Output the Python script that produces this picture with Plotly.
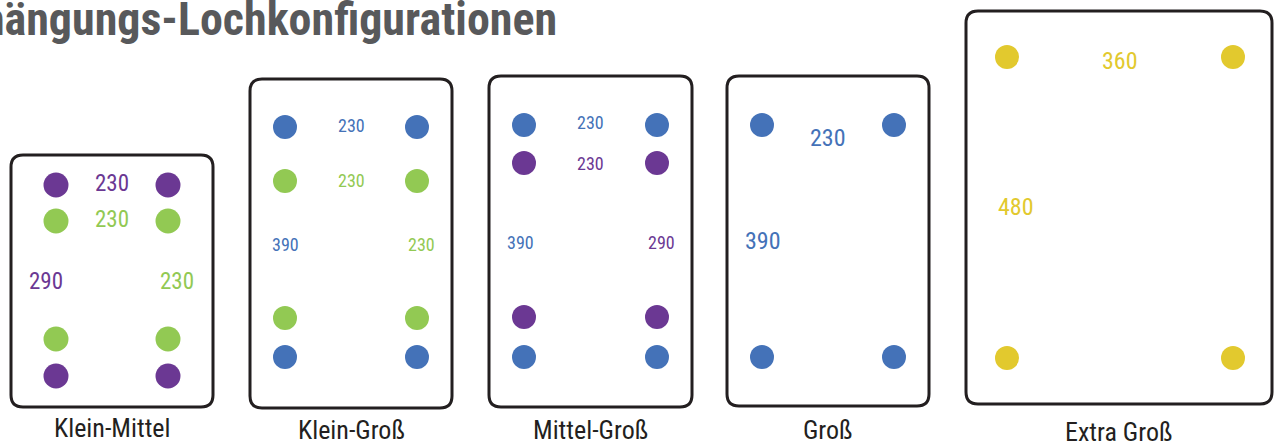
import plotly.graph_objects as go

# ---------------- data ----------------
title_text = "Aufhängungs-Lochkonfigurationen"
categories = ["Klein-Mittel", "Klein-Groß", "Mittel-Groß", "Groß", "Extra Groß"]

# hole patterns per configuration: (colour key, horizontal spacing, vertical spacing)
pattern_colors = [["purple", "green"], ["blue", "green"], ["blue", "purple"], ["blue"], ["yellow"]]
pattern_width = [[230, 230], [230, 230], [230, 230], [230], [360]]
pattern_height = [[290, 230], [390, 230], [390, 290], [390], [480]]

# ---------------- layout (pixel geometry of the drawing) ----------------
W, H = 1274, 447
palette = {"purple": "#6b3893", "green": "#92c953", "blue": "#4472b8", "yellow": "#e2c92e"}

boxes = [(11, 213, 155, 407), (250, 452, 79, 408), (489, 692, 76, 407),
         (727, 929, 76, 406), (966, 1272, 11, 404)]
cols = [(56, 168), (285, 417), (524, 657), (762, 894), (1007, 1233)]
rows = [[(185, 376), (221, 339)], [(127, 357), (181, 318)], [(125, 357), (163, 317)],
        [(125, 357)], [(57, 358)]]
wlab = [[(112, 183), (112, 219)], [(351, 125), (351, 180)], [(590, 122), (590, 163)],
        [(828, 138)], [(1120, 61)]]
hlab = [[(46, 281), (177, 281)], [(285, 244), (421, 244)], [(520, 242), (661, 242)],
        [(763, 241)], [(1016, 207)]]
lab_size = [23, 18, 18, 24, 24]
dot_size = [25, 24, 24, 24, 24]
cat_y = [428, 430, 430, 430, 432]

num_font = "Roboto Condensed, Liberation Sans Narrow, DejaVu Sans Condensed, Liberation Sans, sans-serif"

fig = go.Figure()
shapes = []
annotations = []
r = 12
for i, cat in enumerate(categories):
    x0, x1, y0, y1 = boxes[i]
    path = (f"M {x0+r},{y0} L {x1-r},{y0} Q {x1},{y0} {x1},{y0+r} "
            f"L {x1},{y1-r} Q {x1},{y1} {x1-r},{y1} L {x0+r},{y1} "
            f"Q {x0},{y1} {x0},{y1-r} L {x0},{y0+r} Q {x0},{y0} {x0+r},{y0} Z")
    shapes.append(dict(type="path", path=path, xref="x", yref="y",
                       line=dict(color="#231f20", width=3), fillcolor="white", layer="below"))
    for j, ck in enumerate(pattern_colors[i]):
        c = palette[ck]
        top, bot = rows[i][j]
        xl, xr = cols[i]
        fig.add_trace(go.Scatter(
            x=[xl, xr, xl, xr], y=[top, top, bot, bot], mode="markers",
            marker=dict(size=dot_size[i], color=c, line=dict(width=0)),
            hoverinfo="skip", showlegend=False))
        wx, wy = wlab[i][j]
        annotations.append(dict(x=wx, y=wy, xref="x", yref="y", text=str(pattern_width[i][j]),
                                showarrow=False, xanchor="center", yanchor="middle",
                                font=dict(family=num_font, size=lab_size[i], color=c)))
        hx, hy = hlab[i][j]
        annotations.append(dict(x=hx, y=hy, xref="x", yref="y", text=str(pattern_height[i][j]),
                                showarrow=False, xanchor="center", yanchor="middle",
                                font=dict(family=num_font, size=lab_size[i], color=c)))
    annotations.append(dict(x=(x0 + x1) / 2, y=cat_y[i], xref="x", yref="y", text=cat,
                            showarrow=False, xanchor="center", yanchor="middle",
                            font=dict(family=num_font, size=26, color="#231f20")))

annotations.append(dict(x=559, y=19, xref="x", yref="y", text=f"<b>{title_text}</b>",
                        showarrow=False, xanchor="right", yanchor="middle",
                        font=dict(family=num_font, size=46, color="#58595b")))

fig.update_layout(
    width=W, height=H, margin=dict(l=0, r=0, t=0, b=0),
    paper_bgcolor="white", plot_bgcolor="white",
    xaxis=dict(range=[0, W], visible=False, fixedrange=True),
    yaxis=dict(range=[H, 0], visible=False, fixedrange=True),
    shapes=shapes, annotations=annotations, showlegend=False,
)
fig.write_html("out.html", config={"displayModeBar": False},
               post_script="document.body.style.margin='0';document.body.style.overflow='hidden';")
